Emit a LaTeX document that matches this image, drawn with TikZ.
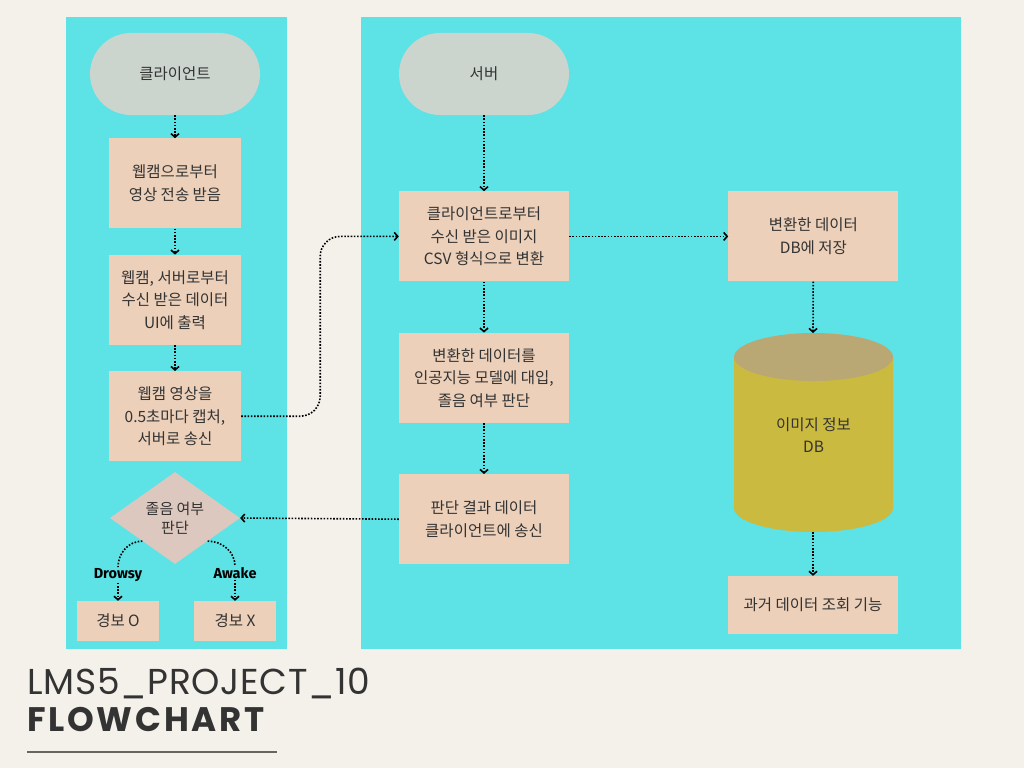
\documentclass[tikz,border=0pt]{standalone}
\usepackage{fontspec}
\setmainfont{Noto Sans CJK KR}
\newfontfamily\titlefont[LetterSpace=8]{Poppins}
\newfontfamily\projectfont[LetterSpace=2]{Poppins}
\newfontfamily\tagfont{Fira Sans}
\definecolor{pagebg}{RGB}{244,240,234}
\definecolor{panelcyan}{RGB}{93,226,230}
\definecolor{termgray}{RGB}{203,213,206}
\definecolor{boxtan}{RGB}{236,208,186}
\definecolor{diarose}{RGB}{221,200,191}
\definecolor{dbbody}{RGB}{203,186,64}
\definecolor{dbtop}{RGB}{186,168,116}
\definecolor{inkgray}{RGB}{51,51,51}
\definecolor{rulegray}{RGB}{105,100,96}
\usepackage{tikz}
\usetikzlibrary{positioning,shapes.geometric,arrows.meta}

\begin{document}
\begin{tikzpicture}[x=1pt, y=-1pt, node distance=26pt, font=\fontsize{15.5}{22.5}\selectfont, text=inkgray]
    \tikzstyle{term} = [rectangle, fill=termgray, rounded corners=41pt,
        minimum width=170pt, minimum height=82pt, align=center]
    \tikzstyle{block} = [rectangle, fill=boxtan, minimum width=132pt,
        minimum height=90pt, align=center, inner sep=0pt]
    \tikzstyle{wideblock} = [block, minimum width=170pt]
    \tikzstyle{alarm} = [block, minimum width=82pt, minimum height=40pt]
    \tikzstyle{decision} = [diamond, fill=diarose, minimum width=130pt, minimum height=92pt,
        aspect=1.41, align=center, inner sep=0pt, font=\fontsize{15}{19}\selectfont]
    \tikzstyle{tag} = [font=\tagfont\bfseries\fontsize{14.5}{16}\selectfont, text=black, inner sep=1pt]
    \tikzstyle{link} = [line width=1.6pt, dash pattern=on 1.6pt off 1.6pt]
    \tikzstyle{arrow} = [link, -{Straight Barb[length=3.5pt,width=8pt]}]

    % background and panels
    \useasboundingbox (0,0) rectangle (1024,768);
    \fill[pagebg] (0,0) rectangle (1024,768);
    \fill[panelcyan] (66,17) rectangle (287,649);
    \fill[panelcyan] (361,17) rectangle (961,649);

    % client side
    \node [term] (client) at (175,74) {클라이언트};
    \node [block, below=23pt of client] (webcam) {웹캠으로부터\\영상 전송 받음};
    \node [block, below=26pt of webcam] (display) {웹캠, 서버로부터\\수신 받은 데이터\\UI에 출력};
    \node [block, below=26pt of display] (capture) {웹캠 영상을\\0.5초마다 캡처,\\서버로 송신};
    \node [decision] (judge) at (175,518) {졸음 여부\\판단};
    \node [tag] (drowsy) at (118,575) {Drowsy};
    \node [tag] (awake) at (235,573) {Awake};
    \node [alarm] (alarmon) at (118,621) {경보 O};
    \node [alarm] (alarmoff) at (235,621) {경보 X};

    % server side
    \node [term] (server) at (484,74) {서버};
    \node [wideblock, below=76pt of server] (convert) {클라이언트로부터\\수신 받은 이미지\\CSV 형식으로 변환};
    \node [wideblock, below=51pt of convert] (predict) {변환한 데이터를\\인공지능 모델에 대입,\\졸음 여부 판단};
    \node [wideblock, below=51pt of predict] (result) {판단 결과 데이터\\클라이언트에 송신};
    \node [wideblock, right=159pt of convert] (store) {변환한 데이터\\DB에 저장};

    % database
    \fill[dbbody] (734,357) -- (734,508) arc[start angle=180, end angle=360, x radius=79.5pt, y radius=24pt] -- (893,357) -- cycle;
    \fill[dbtop] (813.5,357) ellipse [x radius=79.5pt, y radius=24pt];
    \node [align=center] (dbinfo) at (813.5,435) {이미지 정보\\DB};
    \coordinate (dbtopend) at (813,333);
    \coordinate (dbbottom) at (813,532);
    \node [wideblock, minimum height=58pt] (history) at (813,605) {과거 데이터 조회 기능};

    % connectors
    \draw [arrow] (client) -- (webcam);
    \draw [arrow] (webcam) -- (display);
    \draw [arrow] (display) -- (capture);
    \draw [arrow, rounded corners=20pt] (capture.east) -- ++(79pt,0) |- (convert.west);
    \draw [arrow] (server) -- (convert);
    \draw [arrow] (convert) -- (predict);
    \draw [arrow] (predict) -- (result);
    \draw [arrow] (result.west) -- (judge.east);
    \draw [arrow] (convert) -- (store);
    \draw [arrow] (store) -- (dbtopend);
    \draw [arrow] (dbbottom) -- (history);
    \draw [link] (judge.south west) to[out=180, in=90] (drowsy.north);
    \draw [link] (judge.south east) to[out=0, in=90] (awake.north);
    \draw [arrow] (drowsy) -- (alarmon);
    \draw [arrow] (awake) -- (alarmoff);

    % title
    \node [anchor=base west, inner sep=0pt, font=\projectfont\fontsize{36}{40}\selectfont] (project) at (27,694) {LMS5\_PROJECT\_10};
    \node [anchor=base west, inner sep=0pt, font=\titlefont\bfseries\fontsize{34}{40}\selectfont] (heading) at (27,731) {FLOWCHART};
    \draw [line width=2pt, rulegray] (27,752) -- (277,752);
\end{tikzpicture}
\end{document}
